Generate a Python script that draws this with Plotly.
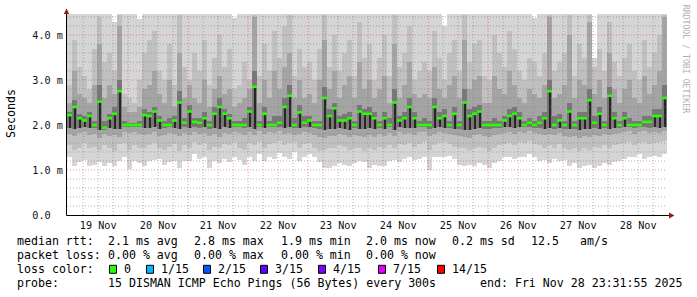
import plotly.graph_objects as go
import pandas as pd

# ---------------- data (milliseconds), one value per 2-hour column ----------------
median_ms = [
    2.22, 2.40, 2.15, 2.10, 2.20, 2.00, 2.52, 1.94, 2.15, 2.25, 2.75, 2.00,
    2.00, 2.00, 2.00, 2.22, 2.20, 2.30, 2.10, 2.00, 2.00, 2.10, 2.50, 2.05,
    2.30, 2.07, 2.05, 2.15, 2.00, 2.25, 2.40, 2.25, 2.15, 2.00, 2.00, 2.00,
    2.30, 2.85, 2.00, 2.25, 2.00, 2.00, 2.05, 2.40, 2.65, 2.00, 2.28, 2.05,
    2.10, 2.00, 2.00, 2.60, 2.20, 2.37, 2.10, 2.10, 2.15, 2.00, 2.30, 2.25,
    2.25, 2.15, 2.00, 2.15, 2.00, 2.50, 2.10, 2.15, 2.40, 2.15, 2.00, 2.00,
    2.00, 2.40, 2.15, 2.20, 2.00, 2.25, 2.00, 2.50, 2.20, 2.25, 2.30, 2.00,
    2.00, 2.00, 2.00, 2.10, 2.20, 2.25, 2.15, 2.00, 2.05, 2.00, 2.05, 2.15,
    2.75, 2.00, 2.10, 2.00, 2.30, 2.00, 2.15, 2.15, 2.55, 2.05, 2.25, 2.00,
    2.65, 2.15, 2.00, 2.15, 2.00, 2.00, 2.00, 2.07, 2.07, 2.20, 2.20, 2.60,
]
ping_min = [
    1.30, 1.10, 1.18, 1.22, 1.10, 1.12, 1.18, 1.08, 1.15, 1.10, 1.20, 1.30,
    1.02, 1.20, 1.15, 1.10, 1.20, 1.22, 1.25, 1.12, 1.18, 1.20, 1.05, 1.20,
    1.20, 1.35, 1.25, 1.30, 1.05, 1.20, 1.15, 1.25, 1.18, 1.30, 1.22, 1.12,
    1.30, 1.20, 1.35, 1.20, 1.30, 1.25, 1.38, 1.30, 1.25, 1.40, 1.20, 1.30,
    1.35, 1.30, 1.18, 1.05, 1.05, 1.10, 1.15, 1.12, 1.10, 1.15, 1.20, 1.18,
    1.05, 1.12, 1.10, 1.10, 1.20, 1.22, 1.18, 1.25, 1.28, 1.22, 1.25, 1.30,
    1.00, 1.28, 1.30, 1.30, 1.32, 1.25, 1.12, 1.10, 1.12, 1.10, 1.15, 1.12,
    1.05, 1.15, 1.20, 1.28, 1.30, 1.25, 1.30, 1.30, 1.35, 1.30, 1.20, 1.22,
    1.15, 1.25, 1.20, 1.22, 1.10, 1.15, 1.05, 1.10, 1.12, 1.05, 1.08, 1.15,
    1.12, 1.18, 1.20, 1.25, 1.30, 1.28, 1.35, 1.25, 1.30, 1.32, 1.30, 1.35,
]
ping_max = [
    4.47, 4.47, 4.47, 4.47, 4.47, 4.47, 4.47, 4.47, 4.47, 4.30, 4.47, 4.47,
    4.47, 4.47, 4.35, 4.47, 4.47, 4.47, 4.47, 4.47, 4.47, 4.47, 4.47, 4.47,
    4.47, 4.47, 4.47, 4.47, 4.47, 4.47, 4.47, 4.47, 4.47, 4.38, 4.47, 4.47,
    4.47, 4.47, 4.47, 4.47, 4.47, 4.47, 4.47, 4.47, 4.47, 4.47, 4.47, 4.47,
    4.47, 4.47, 4.47, 4.47, 4.47, 4.47, 4.47, 4.47, 4.47, 4.47, 4.47, 4.47,
    4.47, 4.47, 4.47, 4.47, 4.47, 4.47, 4.47, 4.47, 4.47, 4.47, 4.47, 4.47,
    4.47, 4.47, 4.47, 4.20, 4.47, 4.47, 4.47, 4.47, 4.47, 4.47, 4.47, 4.47,
    4.47, 4.47, 4.47, 4.47, 4.47, 4.47, 4.47, 4.47, 4.47, 4.38, 4.47, 4.47,
    4.47, 4.47, 4.47, 4.47, 4.47, 4.47, 4.47, 4.47, 4.47, 3.50, 4.47, 4.47,
    4.47, 4.47, 4.47, 4.47, 4.47, 4.47, 4.47, 4.47, 4.47, 4.47, 4.47, 4.47,
]
band2_lo = [
    1.55, 1.45, 1.50, 1.60, 1.48, 1.52, 1.45, 1.55, 1.50, 1.42, 1.58, 1.60,
    1.45, 1.55, 1.50, 1.48, 1.55, 1.60, 1.50, 1.45, 1.52, 1.58, 1.42, 1.55,
    1.50, 1.62, 1.55, 1.60, 1.45, 1.52, 1.48, 1.58, 1.55, 1.62, 1.50, 1.45,
    1.60, 1.55, 1.62, 1.50, 1.58, 1.60, 1.65, 1.55, 1.60, 1.62, 1.50, 1.58,
    1.60, 1.50, 1.42, 1.45, 1.50, 1.48, 1.55, 1.52, 1.45, 1.50, 1.48, 1.42,
    1.50, 1.45, 1.52, 1.48, 1.55, 1.50, 1.58, 1.55, 1.60, 1.52, 1.58, 1.62,
    1.45, 1.55, 1.60, 1.62, 1.58, 1.52, 1.48, 1.50, 1.45, 1.50, 1.52, 1.48,
    1.42, 1.50, 1.55, 1.58, 1.60, 1.55, 1.62, 1.60, 1.65, 1.58, 1.55, 1.50,
    1.55, 1.50, 1.58, 1.50, 1.45, 1.48, 1.42, 1.50, 1.45, 1.52, 1.48, 1.55,
    1.50, 1.55, 1.58, 1.60, 1.62, 1.55, 1.60, 1.62, 1.58, 1.60, 1.62, 1.65,
]
band2_hi = [
    2.90, 3.90, 3.30, 3.10, 2.80, 3.70, 4.40, 3.40, 3.60, 3.20, 4.45, 2.70,
    2.60, 2.50, 3.00, 3.60, 3.90, 4.10, 3.20, 3.00, 3.80, 2.90, 4.45, 3.30,
    3.00, 3.60, 3.20, 3.90, 2.90, 3.50, 4.00, 3.30, 3.70, 2.80, 2.90, 3.40,
    3.00, 4.45, 3.10, 3.80, 3.20, 4.10, 3.50, 4.20, 4.45, 3.10, 3.70, 3.30,
    3.40, 3.00, 3.70, 4.45, 3.30, 4.00, 3.20, 3.60, 3.90, 3.10, 4.30, 3.50,
    3.80, 3.00, 3.50, 4.00, 3.10, 4.45, 3.30, 3.60, 4.20, 3.00, 3.20, 3.40,
    3.20, 4.10, 3.50, 3.00, 3.60, 3.90, 3.20, 4.45, 3.40, 3.80, 3.90, 3.10,
    3.00, 4.00, 3.60, 3.30, 4.10, 3.70, 3.20, 3.00, 3.50, 3.40, 3.10, 3.60,
    4.45, 3.20, 3.40, 3.60, 4.45, 3.10, 3.80, 3.50, 4.45, 3.30, 3.70, 3.20,
    4.30, 3.40, 3.10, 3.50, 3.80, 3.20, 3.00, 3.90, 3.30, 3.60, 4.00, 4.45,
]
band3_lo = [
    1.80, 1.75, 1.82, 1.85, 1.78, 1.80, 1.72, 1.80, 1.76, 1.78, 1.74, 1.85,
    1.82, 1.85, 1.80, 1.78, 1.80, 1.84, 1.76, 1.78, 1.82, 1.80, 1.75, 1.82,
    1.78, 1.84, 1.80, 1.82, 1.75, 1.80, 1.74, 1.82, 1.80, 1.85, 1.82, 1.78,
    1.85, 1.78, 1.86, 1.80, 1.84, 1.82, 1.86, 1.80, 1.82, 1.78, 1.80, 1.84,
    1.82, 1.78, 1.74, 1.72, 1.76, 1.75, 1.80, 1.78, 1.74, 1.78, 1.76, 1.74,
    1.78, 1.74, 1.80, 1.76, 1.82, 1.75, 1.84, 1.80, 1.82, 1.78, 1.84, 1.85,
    1.75, 1.80, 1.84, 1.82, 1.80, 1.78, 1.76, 1.74, 1.72, 1.78, 1.80, 1.75,
    1.74, 1.78, 1.80, 1.82, 1.84, 1.80, 1.85, 1.82, 1.86, 1.82, 1.80, 1.78,
    1.80, 1.78, 1.82, 1.76, 1.74, 1.76, 1.72, 1.75, 1.74, 1.78, 1.76, 1.80,
    1.78, 1.80, 1.82, 1.84, 1.86, 1.80, 1.84, 1.86, 1.82, 1.84, 1.82, 1.86,
]
band3_hi = [
    2.50, 3.20, 2.70, 2.60, 2.50, 2.90, 3.80, 2.60, 2.90, 2.70, 4.20, 2.40,
    2.30, 2.30, 2.40, 2.80, 2.90, 3.20, 2.70, 2.50, 3.00, 2.40, 3.60, 2.60,
    2.90, 2.60, 2.50, 3.00, 2.40, 2.80, 3.10, 2.70, 2.80, 2.40, 2.50, 2.60,
    2.80, 4.40, 2.50, 3.00, 2.60, 3.20, 2.80, 3.30, 3.60, 2.60, 3.00, 2.60,
    2.70, 2.50, 3.00, 3.90, 2.80, 3.20, 2.60, 2.90, 3.10, 2.60, 3.40, 2.80,
    3.00, 2.60, 2.80, 3.10, 2.50, 3.80, 2.60, 2.90, 3.40, 2.70, 2.60, 2.70,
    2.60, 3.30, 2.80, 2.60, 2.90, 3.10, 2.60, 3.90, 2.80, 3.00, 3.10, 2.50,
    2.50, 3.10, 2.80, 2.70, 3.20, 2.90, 2.60, 2.50, 2.80, 2.70, 2.60, 2.90,
    4.40, 2.60, 2.70, 2.90, 4.00, 2.60, 3.00, 2.90, 4.30, 2.70, 3.00, 2.60,
    3.60, 2.80, 2.50, 2.80, 3.00, 2.60, 2.50, 3.10, 2.70, 2.90, 3.20, 4.40,
]
band4_lo = [
    1.93, 1.92, 1.94, 1.95, 1.93, 1.94, 1.90, 1.88, 1.93, 1.92, 1.91, 1.95,
    1.95, 1.96, 1.95, 1.94, 1.93, 1.95, 1.92, 1.93, 1.95, 1.94, 1.92, 1.95,
    1.93, 1.95, 1.94, 1.95, 1.92, 1.94, 1.91, 1.95, 1.94, 1.96, 1.95, 1.93,
    1.95, 1.92, 1.96, 1.94, 1.95, 1.95, 1.96, 1.94, 1.95, 1.93, 1.94, 1.95,
    1.95, 1.93, 1.91, 1.90, 1.92, 1.91, 1.93, 1.92, 1.90, 1.93, 1.92, 1.91,
    1.93, 1.91, 1.94, 1.92, 1.95, 1.90, 1.95, 1.93, 1.94, 1.93, 1.95, 1.96,
    1.92, 1.94, 1.95, 1.94, 1.93, 1.92, 1.92, 1.90, 1.90, 1.92, 1.93, 1.92,
    1.91, 1.93, 1.94, 1.95, 1.95, 1.94, 1.96, 1.95, 1.96, 1.94, 1.93, 1.92,
    1.93, 1.92, 1.94, 1.92, 1.91, 1.92, 1.90, 1.92, 1.91, 1.93, 1.92, 1.94,
    1.92, 1.93, 1.94, 1.95, 1.96, 1.93, 1.95, 1.96, 1.94, 1.95, 1.94, 1.96,
]
band4_hi = [
    2.30, 2.55, 2.25, 2.20, 2.30, 2.10, 2.90, 2.10, 2.25, 2.40, 3.00, 2.10,
    2.05, 2.05, 2.10, 2.35, 2.30, 2.40, 2.20, 2.10, 2.15, 2.20, 2.75, 2.15,
    2.45, 2.15, 2.15, 2.30, 2.10, 2.40, 2.60, 2.35, 2.25, 2.10, 2.10, 2.15,
    2.40, 3.20, 2.10, 2.40, 2.10, 2.20, 2.20, 2.60, 2.90, 2.15, 2.45, 2.20,
    2.20, 2.10, 2.10, 2.85, 2.35, 2.50, 2.20, 2.25, 2.30, 2.10, 2.45, 2.35,
    2.40, 2.30, 2.10, 2.30, 2.15, 2.80, 2.20, 2.30, 2.60, 2.30, 2.10, 2.15,
    2.10, 2.60, 2.30, 2.35, 2.10, 2.40, 2.10, 2.80, 2.35, 2.40, 2.45, 2.10,
    2.10, 2.15, 2.10, 2.20, 2.35, 2.40, 2.30, 2.10, 2.15, 2.10, 2.20, 2.30,
    3.00, 2.20, 2.25, 2.10, 2.50, 2.10, 2.30, 2.30, 2.80, 2.20, 2.40, 2.10,
    2.85, 2.30, 2.10, 2.30, 2.15, 2.10, 2.10, 2.20, 2.20, 2.35, 2.35, 2.90,
]

day_labels = ["19 Nov", "20 Nov", "21 Nov", "22 Nov", "23 Nov",
              "24 Nov", "25 Nov", "26 Nov", "27 Nov", "28 Nov"]
y_tick_vals = [0, 1, 2, 3, 4]
y_tick_text = ["0.0\u00a0\u00a0", "1.0 m", "2.0 m", "3.0 m", "4.0 m"]

loss_labels = ["0", "1/15", "2/15", "3/15", "4/15", "7/15", "14/15"]
loss_colors = ["#26ff00", "#00b8ff", "#0059ff", "#5e00ff", "#7e00ff", "#dd00ff", "#ff0000"]

legend_line1 = [("median rtt:", 16), ("2.1 ms avg", 107), ("2.8 ms max", 193),
                ("1.9 ms min", 280), ("2.0 ms now", 365), ("0.2 ms sd", 451),
                ("12.5", 530), ("am/s", 579)]
legend_line2 = [("packet loss:", 16), ("0.00 % avg", 107), ("0.00 % max", 193),
                ("0.00 % min", 280), ("0.00 % now", 365)]
legend_line4 = [("probe:", 16), ("15 DISMAN ICMP Echo Pings (56 Bytes) every 300s", 107),
                ("end: Fri Nov 28 23:31:55 2025", 479)]

# ---------------- geometry helpers ----------------
W, H = 697, 297
ML, MR, MT, MB = 67, 30, 14, 82
PW, PH = W - ML - MR, H - MT - MB
Y_TOP = PH / 45.0  # 45 px per ms


def px(xp):
    return (xp - ML) / PW


def py(yp):
    return (MT + PH - yp) / PH


start = pd.Timestamp("2025-11-18 23:31:55")
step = pd.Timedelta(hours=2)
n = len(median_ms)
fmt = "%Y-%m-%d %H:%M:%S"
centers = [(start + step * i + step / 2).strftime(fmt) for i in range(n)]
col_start = [(start + step * i).strftime(fmt) for i in range(n)]
col_end = [(start + step * (i + 1)).strftime(fmt) for i in range(n)]
end = start + step * n
BW = 2 * 3600 * 1000

fig = go.Figure()


def band(lo, hi, color, width=BW * 1.06, mask=None):
    xs, bs, hs = [], [], []
    for i in range(n):
        if mask is not None and not mask[i]:
            continue
        xs.append(centers[i]); bs.append(lo[i]); hs.append(hi[i] - lo[i])
    fig.add_trace(go.Bar(x=xs, y=hs, base=bs, width=width,
                         marker=dict(color=color, line=dict(width=0)),
                         hoverinfo="skip", showlegend=False))


band(ping_min, ping_max, "#d5d5d5")
band(band2_lo, band2_hi, "#c0c0c0")
band(band3_lo, band3_hi, "#a4a4a4")
band(band4_lo, band4_hi, "#787878")
band(band4_lo, median_ms, "#262626", width=BW * 0.4,
     mask=[m >= 2.1 for m in median_ms])

# grid (dotted, above smoke)
minor_y = [round(0.2 * k, 1) for k in range(1, 23) if k % 5 != 0]
major_y = [1, 2, 3, 4]
day0 = pd.Timestamp("2025-11-19 00:00:00")
minor_x = [(day0 + pd.Timedelta(hours=6 * k)).strftime(fmt) for k in range(40) if k % 4 != 0]
major_x = [(day0 + pd.Timedelta(days=k)).strftime(fmt) for k in range(1, 10)]


def grid_trace(hvals, vvals, color):
    xs, ys = [], []
    for v in hvals:
        xs += [start.strftime(fmt), end.strftime(fmt), None]
        ys += [v, v, None]
    for t in vvals:
        xs += [t, t, None]
        ys += [0, Y_TOP, None]
    fig.add_trace(go.Scatter(x=xs, y=ys, mode="lines",
                             line=dict(color=color, width=1, dash="1px,2px"),
                             hoverinfo="skip", showlegend=False))


grid_trace(minor_y, minor_x, "rgba(120,120,120,0.55)")
grid_trace(major_y, major_x, "rgba(220,40,40,0.5)")

# median line (green = 0 loss)
mx, my = [], []
for i in range(n):
    mx += [col_start[i], col_end[i], None]
    my += [median_ms[i], median_ms[i], None]
fig.add_trace(go.Scatter(x=mx, y=my, mode="lines",
                         line=dict(color="#26ff00", width=2.6),
                         hoverinfo="skip", showlegend=False))

MONO = "DejaVu Sans Mono"
noon = [(day0 + pd.Timedelta(days=k, hours=12)).strftime(fmt) for k in range(10)]

fig.update_layout(
    width=W, height=H,
    margin=dict(l=ML, r=MR, t=MT, b=MB, pad=0),
    paper_bgcolor="white", plot_bgcolor="white",
    barmode="overlay", bargap=0, showlegend=False,
    font=dict(family=MONO, color="black"),
    xaxis=dict(type="date", range=[start.strftime(fmt), end.strftime(fmt)],
               showgrid=False, zeroline=False, showline=False,
               tickvals=noon, ticktext=day_labels, ticks="",
               ticklabelstandoff=3,
               tickfont=dict(family=MONO, size=10.2, color="#111111"),
               fixedrange=True),
    yaxis=dict(range=[0, Y_TOP], showgrid=False, zeroline=False, showline=False,
               tickvals=y_tick_vals, ticktext=y_tick_text, ticks="",
               ticklabelstandoff=3,
               tickfont=dict(family=MONO, size=10.2, color="#111111"),
               fixedrange=True),
)

shapes = []
# axes + arrows
shapes.append(dict(type="line", xref="paper", yref="paper", x0=px(66.5), x1=px(66.5),
                   y0=py(215.5), y1=py(12), line=dict(color="black", width=1)))
shapes.append(dict(type="line", xref="paper", yref="paper", x0=px(66.5), x1=px(670),
                   y0=py(215.5), y1=py(215.5), line=dict(color="black", width=1)))
shapes.append(dict(type="path", xref="paper", yref="paper",
                   path=f"M {px(63.8)} {py(14)} L {px(69.2)} {py(14)} L {px(66.5)} {py(8.5)} Z",
                   fillcolor="#8f1d1d", line=dict(width=0)))
shapes.append(dict(type="path", xref="paper", yref="paper",
                   path=f"M {px(669)} {py(212.5)} L {px(669)} {py(218.5)} L {px(674.5)} {py(215.5)} Z",
                   fillcolor="#8f1d1d", line=dict(width=0)))

annotations = []
FS = 11.6


def txt(s, xp, yp, size=FS, color="black", angle=0, xanchor="left"):
    annotations.append(dict(text=s.replace(" ", "\u00a0"), x=px(xp), y=py(yp),
                            xref="paper", yref="paper", xanchor=xanchor, yanchor="middle",
                            showarrow=False, borderpad=0, textangle=angle,
                            font=dict(family=MONO, size=size, color=color)))


for s, xp in legend_line1:
    txt(s, xp, 241.3)
for s, xp in legend_line2:
    txt(s, xp, 255.4)
txt("loss color:", 16, 269.3)
box_x = [109, 146, 203, 260, 318, 378, 437]
for s, c, bx in zip(loss_labels, loss_colors, box_x):
    shapes.append(dict(type="rect", xref="paper", yref="paper",
                       x0=px(bx + 0.5), x1=px(bx + 7.5), y0=py(265.3), y1=py(273.3),
                       fillcolor=c, line=dict(color="black", width=1)))
    txt(s, bx + 14, 269.3)
for s, xp in legend_line4:
    txt(s, xp, 283.2)

txt("Seconds", 11, 114, angle=-90, xanchor="center")
txt("RRDTOOL / TOBI OETIKER", 686.3, 59, size=8.2, color="#b0b0b0", angle=90, xanchor="center")

fig.update_layout(shapes=shapes, annotations=annotations)
fig.write_html("out.html")
